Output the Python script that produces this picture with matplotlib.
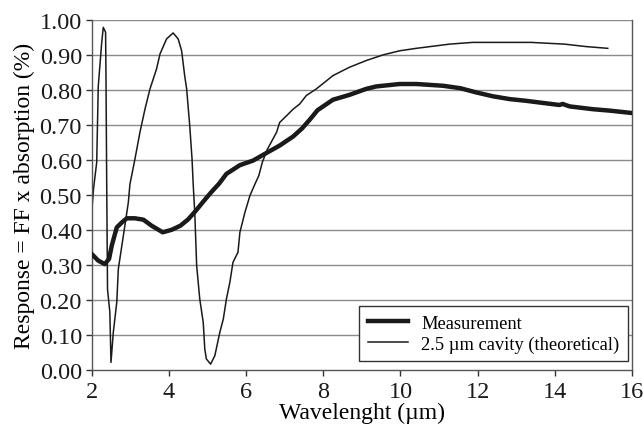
import matplotlib
matplotlib.use('Agg')
import matplotlib.pyplot as plt
from matplotlib.ticker import FormatStrFormatter

meas_x = [2.00, 2.17, 2.34, 2.45, 2.52, 2.65, 2.78, 2.91, 3.12, 3.34, 3.55, 3.84,
          4.07, 4.30, 4.50, 4.70, 4.90, 5.10, 5.30, 5.49, 5.84, 6.18, 6.53, 6.87,
          7.22, 7.45, 7.65, 7.85, 8.25, 8.68, 9.11, 9.37, 9.98, 10.41, 11.10,
          11.55, 11.96, 12.39, 12.82, 13.25, 13.68, 14.12, 14.20, 14.38, 14.98,
          15.41, 16.00]
meas_y = [0.331, 0.312, 0.302, 0.317, 0.355, 0.407, 0.421, 0.433, 0.433, 0.429,
          0.412, 0.393, 0.400, 0.412, 0.430, 0.455, 0.482, 0.508, 0.532, 0.560,
          0.585, 0.598, 0.620, 0.641, 0.667, 0.690, 0.715, 0.742, 0.772, 0.786,
          0.803, 0.810, 0.817, 0.817, 0.812, 0.805, 0.793, 0.782, 0.774, 0.769,
          0.763, 0.757, 0.760, 0.753, 0.745, 0.741, 0.734]

# 2.5 um cavity, theoretical (thin line)
theo_x = [2.00, 2.05, 2.13, 2.17, 2.26, 2.30, 2.36, 2.37, 2.39, 2.41, 2.47, 2.50,
          2.56, 2.65, 2.69, 2.82, 2.95, 2.99, 3.12, 3.25, 3.38, 3.51, 3.68, 3.77,
          3.94, 4.11, 4.24, 4.33, 4.41, 4.46, 4.54, 4.60, 4.63, 4.67, 4.72, 4.80,
          4.89, 4.93, 4.97, 5.08, 5.19, 5.32, 5.41, 5.49, 5.58, 5.66, 5.79, 5.84,
          5.97, 6.10, 6.23, 6.33, 6.42, 6.55, 6.79, 6.87, 7.22, 7.39, 7.56, 7.82,
          8.25, 8.68, 9.11, 9.54, 9.98, 10.41, 10.84, 11.27, 11.87, 13.38, 14.25,
          14.81, 15.37]
theo_y = [0.45, 0.52, 0.593, 0.81, 0.936, 0.979, 0.965, 0.84, 0.517, 0.23, 0.165,
          0.021, 0.107, 0.193, 0.288, 0.383, 0.479, 0.530, 0.602, 0.679, 0.745,
          0.803, 0.860, 0.903, 0.946, 0.963, 0.946, 0.912, 0.840, 0.803, 0.698,
          0.602, 0.530, 0.450, 0.297, 0.202, 0.135, 0.059, 0.031, 0.016, 0.040,
          0.107, 0.145, 0.202, 0.250, 0.307, 0.336, 0.393, 0.450, 0.498, 0.531,
          0.555, 0.593, 0.630, 0.679, 0.707, 0.745, 0.760, 0.784, 0.803, 0.841,
          0.865, 0.884, 0.900, 0.912, 0.919, 0.925, 0.931, 0.936, 0.936, 0.931,
          0.924, 0.919]

xticks = [2, 4, 6, 8, 10, 12, 14, 16]
yticks = [0.0, 0.1, 0.2, 0.3, 0.4, 0.5, 0.6, 0.7, 0.8, 0.9, 1.0]

plt.rcParams['font.family'] = ['Liberation Serif', 'DejaVu Serif']

fig = plt.figure(figsize=(6.43, 4.27), dpi=100)
ax = fig.add_axes([0.1426, 0.1318, 0.8404, 0.819])

for y in yticks[1:]:
    ax.axhline(y, color='#8a8a8a', linewidth=1.0, zorder=1)

ax.plot(meas_x, meas_y, color='#1a1a1a', linewidth=3.2, label='Measurement', zorder=3)
ax.plot(theo_x, theo_y, color='#1a1a1a', linewidth=1.1,
        label='2.5 \u00b5m cavity (theoretical)', zorder=2)

ax.set_xlim(2, 16)
ax.set_ylim(0, 1.0)
ax.set_xticks(xticks)
ax.set_yticks(yticks)
ax.yaxis.set_major_formatter(FormatStrFormatter('%.2f'))
ax.tick_params(axis='both', direction='out', length=4, width=1, colors='#333333',
               labelsize=17.5, labelcolor='#1a1a1a')
ax.tick_params(axis='x', pad=4)
ax.tick_params(axis='y', pad=3)

for side in ['left', 'bottom', 'right']:
    ax.spines[side].set_color('#555555')
    ax.spines[side].set_linewidth(1.0)
ax.spines['top'].set_visible(False)

ax.set_xlabel('Wavelenght (\u00b5m)', fontsize=17, labelpad=0)
ax.set_ylabel('Response = FF x absorption (%)', fontsize=17, labelpad=3)

leg = ax.legend(loc='lower right', bbox_to_anchor=(0.992, 0.025), fontsize=13.3,
                frameon=True, fancybox=False, framealpha=1, edgecolor='#333333',
                handlelength=2.2, borderpad=0.45, labelspacing=0.2, handletextpad=0.7,
                borderaxespad=0)
leg.get_frame().set_linewidth(1.0)

fig.savefig('out.png', dpi=100)
